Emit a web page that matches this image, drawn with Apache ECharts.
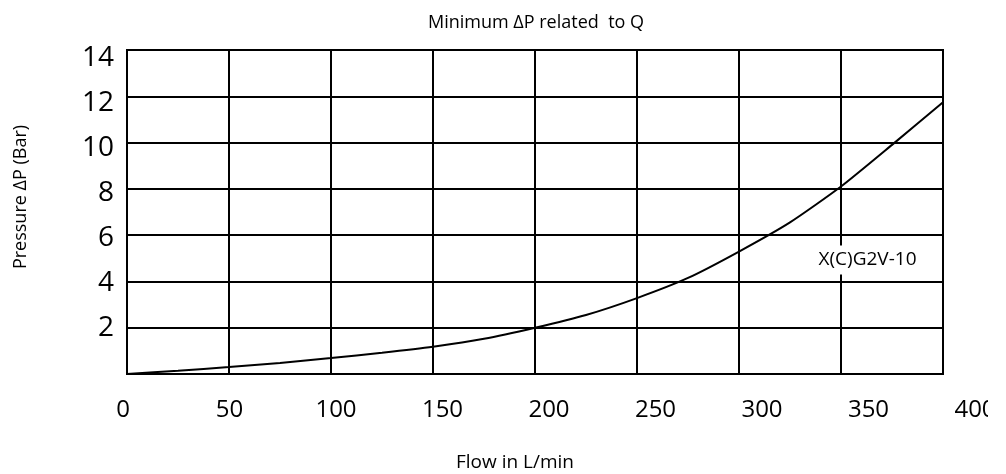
<!DOCTYPE html>
<html><head><meta charset="utf-8">
<script src="https://cdn.jsdelivr.net/npm/echarts@6/dist/echarts.min.js"></script>
<style>html,body{margin:0;padding:0;background:#fff}#c{width:1006px;height:474px}</style>
</head><body><div id="c"></div>
<script>
// ---- data ----
const flow = [0, 25, 50, 75, 100, 125, 150, 175, 200, 225, 250, 275, 300, 325, 350, 375, 400];
const pressure = [0, 0.14, 0.30, 0.48, 0.69, 0.92, 1.18, 1.52, 2.0, 2.55, 3.28, 4.15, 5.29, 6.55, 8.1, 9.9, 11.74];
const xTickLabels = [0, 50, 100, 150, 200, 250, 300, 350, 400];
const yTickLabels = [2, 4, 6, 8, 10, 12, 14];
const curveName = 'X(C)G2V-10';
const curveLabelAt = [363, 4.93];
const titleText = 'Minimum \u0394P related  to Q';
const xName = 'Flow in L/min';
const yName = 'Pressure \u0394P (Bar)';

const FONT = '"Open Sans", "Noto Sans", sans-serif';
const chart = echarts.init(document.getElementById('c'));
const points = flow.map((f, i) => [f, pressure[i]]);

chart.setOption({
  animation: false,
  backgroundColor: '#fff',
  title: {
    text: titleText, left: 531, top: 9, textAlign: 'center',
    textStyle: { fontFamily: FONT, fontSize: 18, fontWeight: 'normal', color: '#000' }
  },
  grid: [
    { left: 127, top: 50, width: 816, height: 324, show: true, borderColor: '#000', borderWidth: 2, backgroundColor: 'transparent' },
    { left: 123, top: 58, right: 31, bottom: 101 }
  ],
  xAxis: [
    { gridIndex: 0, type: 'value', min: 0, max: 400, interval: 50,
      axisLine: { show: false }, axisTick: { show: false }, axisLabel: { show: false },
      splitLine: { show: true, lineStyle: { color: '#000', width: 2 } } },
    { gridIndex: 1, type: 'value', min: 0, max: 400, interval: 50,
      axisLine: { show: false }, axisTick: { show: false }, splitLine: { show: false },
      axisLabel: { show: true, margin: 25, fontFamily: FONT, fontSize: 24, color: '#000',
        formatter: v => xTickLabels.includes(v) ? String(v) : '' } }
  ],
  yAxis: [
    { gridIndex: 0, type: 'value', min: 0, max: 14, interval: 2,
      axisLine: { show: false }, axisTick: { show: false }, axisLabel: { show: false },
      splitLine: { show: true, lineStyle: { color: '#000', width: 2 } } },
    { gridIndex: 1, type: 'value', min: 0, max: 14, interval: 2,
      axisLine: { show: false }, axisTick: { show: false }, splitLine: { show: false },
      axisLabel: { show: true, margin: 9, fontFamily: FONT, fontSize: 28, color: '#000',
        formatter: v => yTickLabels.includes(v) ? String(v) : '' } }
  ],
  series: [{
    type: 'line', name: curveName, xAxisIndex: 0, yAxisIndex: 0,
    data: points, showSymbol: false, smooth: 0.2,
    lineStyle: { color: '#000', width: 2 },
    markPoint: {
      silent: true,
      data: [{
        coord: curveLabelAt, symbol: 'rect', symbolSize: 1,
        itemStyle: { color: 'rgba(0,0,0,0)' },
        label: { show: true, position: 'inside', formatter: curveName,
          fontFamily: FONT, fontSize: 19, color: '#000',
          backgroundColor: '#fff', padding: [5, 3] }
      }]
    }
  }],
  graphic: {
    elements: [
      { type: 'text', x: 515, y: 463, z: 10,
        style: { text: xName, font: '19px ' + FONT, fill: '#000', textAlign: 'center', textVerticalAlign: 'middle' } },
      { type: 'text', x: 21, y: 197, rotation: Math.PI / 2, z: 10,
        style: { text: yName, font: '18px ' + FONT, fill: '#000', textAlign: 'center', textVerticalAlign: 'middle' } },
      { type: 'rect', z: 100, shape: { x: 988, y: 392, width: 18, height: 40 }, style: { fill: '#fff' } }
    ]
  }
});
</script></body></html>
